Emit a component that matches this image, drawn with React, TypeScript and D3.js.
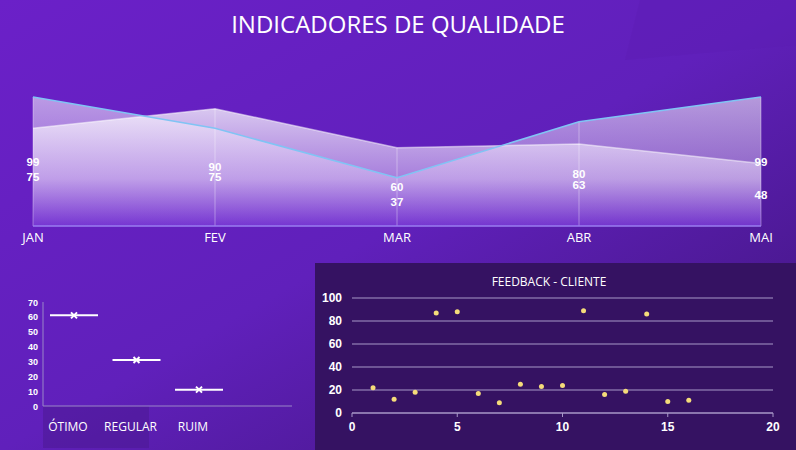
import React from "react";
import * as d3 from "d3";

const months = ["JAN", "FEV", "MAR", "ABR", "MAI"];
const seriesA = [99, 75, 37, 80, 99];
const seriesB = [75, 90, 60, 63, 48];
const qualCats = ["ÓTIMO", "REGULAR", "RUIM"];
const qualVals = [61, 31, 11];
const fbX = [1, 2, 3, 4, 5, 6, 7, 8, 9, 10, 11, 12, 13, 14, 15, 16];
const fbY = [22, 12, 18, 87, 88, 17, 9, 25, 23, 24, 89, 16, 19, 86, 10, 11];

export default function App() {
  const W = 796, H = 450;
  const x = d3.scalePoint<string>().domain(months).range([33, 761]);
  const y = d3.scaleLinear().domain([0, 99]).range([226, 97]);
  const area = (vals: number[]) =>
    d3.area<number>().x((_, i) => x(months[i])!).y0(226).y1((d) => y(d))(vals)!;
  const line = (vals: number[]) =>
    d3.line<number>().x((_, i) => x(months[i])!).y((d) => y(d))(vals)!;

  const qx = d3.scalePoint<string>().domain(qualCats).range([74, 199]);
  const qy = d3.scaleLinear().domain([0, 70]).range([406, 302]);

  const sx = d3.scaleLinear().domain([0, 20]).range([352, 773]);
  const sy = d3.scaleLinear().domain([0, 100]).range([413, 298]);
  const font = "Segoe UI, 'Open Sans', sans-serif";
  const bold = "Arial, 'Liberation Sans', sans-serif";

  return (
    <svg width={W} height={H} style={{ position: "absolute", left: 0, top: 0 }}>
      <defs>
        <linearGradient id="bg" x1="0" y1="0" x2="1" y2="1">
          <stop offset="0" stopColor="#6b20c8" />
          <stop offset="0.5" stopColor="#6020bb" />
          <stop offset="1" stopColor="#3e1478" />
        </linearGradient>
        <linearGradient id="fa" x1="0" y1="0" x2="0" y2="1">
          <stop offset="0" stopColor="#ffffff" stopOpacity="0.55" />
          <stop offset="0.6" stopColor="#d8c0f4" stopOpacity="0.45" />
          <stop offset="1" stopColor="#7a3ad6" stopOpacity="0.6" />
        </linearGradient>
        <linearGradient id="fb" x1="0" y1="0" x2="0" y2="1">
          <stop offset="0" stopColor="#ffffff" stopOpacity="0.75" />
          <stop offset="0.6" stopColor="#e0ccf6" stopOpacity="0.55" />
          <stop offset="1" stopColor="#7a3ad6" stopOpacity="0.5" />
        </linearGradient>
      </defs>
      <rect width={W} height={H} fill="url(#bg)" />
      <polygon points="625,60 796,45 796,0 640,0" fill="#5c1cb2" opacity={0.35} />
      <text x={398} y={33} textAnchor="middle" fill="#fff" fontFamily={font} fontSize={24}>
        INDICADORES DE QUALIDADE
      </text>

      <path d={area(seriesA)} fill="url(#fa)" />
      <path d={area(seriesB)} fill="url(#fb)" />
      {months.map((m, i) => (
        <line key={m} x1={x(m)} x2={x(m)} y1={226} y2={y(Math.max(seriesA[i], seriesB[i]))} stroke="#ffffff" strokeOpacity={0.35} />
      ))}
      <path d={line(seriesB)} fill="none" stroke="#ffffff" strokeOpacity={0.5} strokeWidth={1.5} />
      <path d={line(seriesA)} fill="none" stroke="#80c4f4" strokeWidth={1.5} />
      <line x1={33} x2={761} y1={226} y2={226} stroke="#9a7ef0" strokeWidth={1.5} />
      {months.map((m, i) => (
        <g key={m} fontFamily={bold} fontWeight="bold" fontSize={11.5} fill="#fff" textAnchor="middle">
          <text x={x(m)} y={226 - (226 - y(seriesA[i])) / 2 + 4}>{seriesA[i]}</text>
          <text x={x(m)} y={226 - (226 - y(seriesB[i])) / 2 + 4}>{seriesB[i]}</text>
          <text x={x(m)} y={242} fontFamily={font} fontWeight="normal" fontSize={13}>{m}</text>
        </g>
      ))}

      {/* bottom-left */}
      <rect x={43} y={406} width={106} height={42} fill="#4a1890" opacity={0.5} />
      <line x1={43} x2={43} y1={302} y2={406} stroke="#9a86c8" />
      <line x1={43} x2={292} y1={406} y2={406} stroke="#9a86c8" />
      {qy.ticks(7).map((t) => (
        <text key={t} x={38} y={qy(t) + 3.5} textAnchor="end" fill="#fff" fontFamily={bold} fontWeight="bold" fontSize={9}>{t}</text>
      ))}
      {qualCats.map((c, i) => (
        <g key={c}>
          <line x1={qx(c)! - 24} x2={qx(c)! + 24} y1={qy(qualVals[i])} y2={qy(qualVals[i])} stroke="#fff" strokeWidth={2} />
          <path d={`M${qx(c)! - 3},${qy(qualVals[i]) - 3}l6,6m0,-6l-6,6`} stroke="#fff" strokeWidth={2} />
          <text x={qx(c)! - 6 - i * 0} y={431} textAnchor="middle" fill="#fff" fontFamily={font} fontSize={12}>{c}</text>
        </g>
      ))}

      {/* scatter */}
      <rect x={315} y={263} width={481} height={187} fill="#351262" />
      <text x={549} y={286} textAnchor="middle" fill="#fff" fontFamily={font} fontSize={12}>FEEDBACK - CLIENTE</text>
      {sy.ticks(5).map((t) => (
        <g key={t}>
          {t > 0 && <line x1={352} x2={773} y1={sy(t)} y2={sy(t)} stroke="#a898c8" strokeWidth={1} />}
          <text x={342} y={sy(t) + 4} textAnchor="end" fill="#fff" fontFamily={bold} fontWeight="bold" fontSize={12}>{t}</text>
        </g>
      ))}
      <line x1={352} x2={773} y1={413} y2={413} stroke="#a898c8" strokeWidth={1.5} />
      {sx.ticks(4).map((t) => (
        <g key={t}>
          <line x1={sx(t)} x2={sx(t)} y1={413} y2={417} stroke="#a898c8" />
          <text x={sx(t)} y={431} textAnchor="middle" fill="#fff" fontFamily={bold} fontWeight="bold" fontSize={12}>{t}</text>
        </g>
      ))}
      {fbX.map((v, i) => (
        <circle key={i} cx={sx(v)} cy={sy(fbY[i])} r={2.5} fill="#f5dc7a" />
      ))}
    </svg>
  );
}
